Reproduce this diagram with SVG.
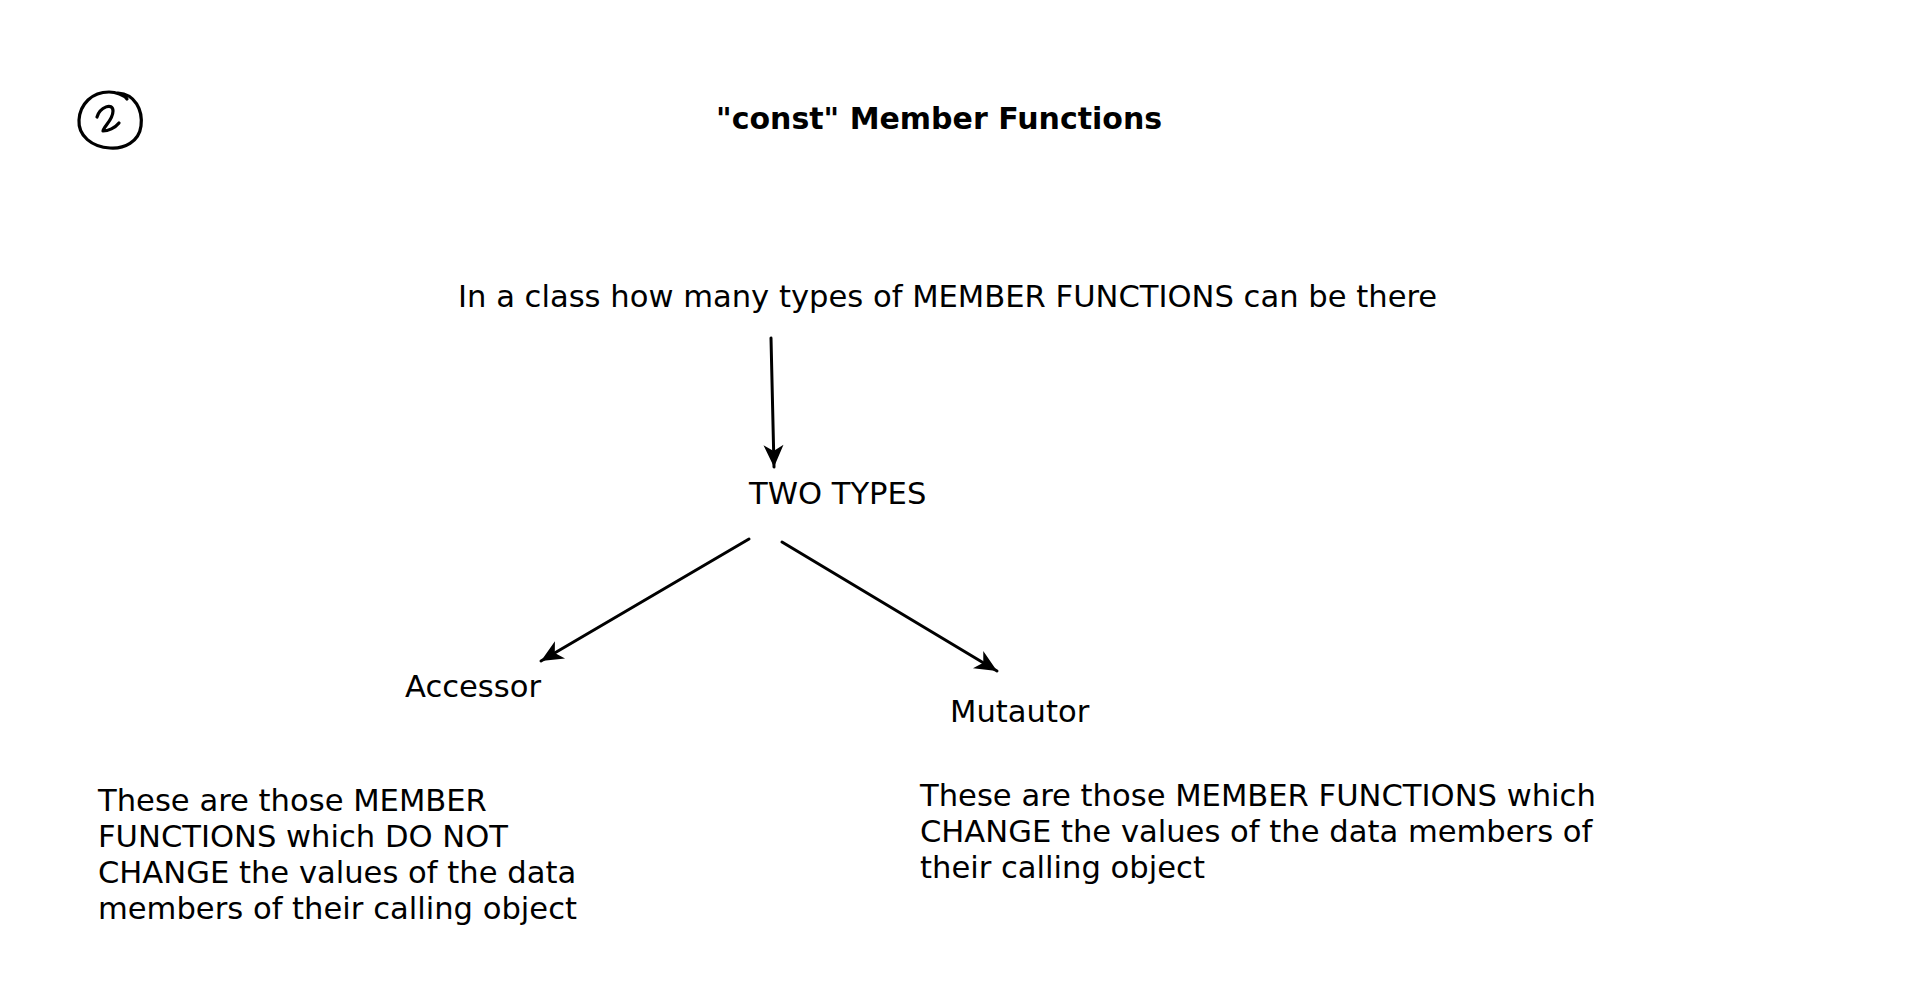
<svg xmlns="http://www.w3.org/2000/svg" width="1920" height="991" viewBox="0 0 1920 991">
<style>
.t{font-family:"DejaVu Sans","Liberation Sans",sans-serif;font-size:30.6px;fill:#000}
.b{font-weight:bold;font-size:30px}
.c{fill:none;stroke:#000;stroke-width:3;stroke-linecap:round}
.h{fill:none;stroke:#000;stroke-width:3.2;stroke-linecap:round;stroke-linejoin:round}
</style>
<defs>
<marker id="ah" viewBox="0 0 26 24" refX="24" refY="12" markerWidth="26" markerHeight="24" markerUnits="userSpaceOnUse" orient="auto">
<path d="M2,2 L24,12 L2,22 L8,12 Z" fill="#000"/>
</marker>
</defs>
<rect width="1920" height="991" fill="#fff"/>
<g id="badge">
<path class="h" d="M118,93 C135,94 143,110 141,126 C139,142 124,149 110,148 C92,147 78,136 79,120 C80,104 92,92 109,92 C116,92 124,95 127,99"/>
<path class="h" d="M97,117 C100,107 113,102 113,111 C113,120 104,126 103,131 C108,131 115,128 119,123"/>
</g>
<g id="title"><text class="t b" x="716" y="129">"const" Member Functions</text></g>
<g id="question"><text class="t" x="458" y="307">In a class how many types of MEMBER FUNCTIONS can be there</text></g>
<g id="two-types"><text class="t" x="749" y="504">TWO TYPES</text></g>
<g id="accessor"><text class="t" x="405" y="697">Accessor</text></g>
<g id="mutautor"><text class="t" x="950" y="722">Mutautor</text></g>
<g id="accessor-desc"><text class="t" x="98" y="811"><tspan x="98">These are those MEMBER</tspan><tspan x="98" dy="36">FUNCTIONS which DO NOT</tspan><tspan x="98" dy="36">CHANGE the values of the data</tspan><tspan x="98" dy="36">members of their calling object</tspan></text></g>
<g id="mutautor-desc"><text class="t" x="920" y="806"><tspan x="920">These are those MEMBER FUNCTIONS which</tspan><tspan x="920" dy="36">CHANGE the values of the data members of</tspan><tspan x="920" dy="36">their calling object</tspan></text></g>
<g id="connectors">
<line class="c" x1="771" y1="338" x2="774" y2="467" marker-end="url(#ah)"/>
<line class="c" x1="749" y1="539" x2="541" y2="661" marker-end="url(#ah)"/>
<line class="c" x1="782" y1="542" x2="997" y2="671" marker-end="url(#ah)"/>
</g>
</svg>
